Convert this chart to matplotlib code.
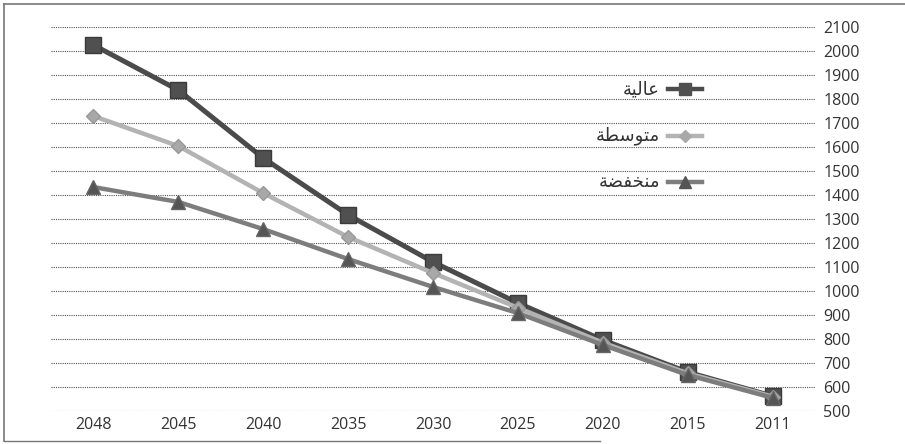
import matplotlib
matplotlib.use("Agg")
import matplotlib.pyplot as plt
from matplotlib.lines import Line2D

# Projection years (drawn right-to-left, most recent on the left)
years = ["2048", "2045", "2040", "2035", "2030", "2025", "2020", "2015", "2011"]

# Scenario values
high = [2025, 1837, 1554, 1317, 1121, 950, 796, 662, 562]
medium = [1729, 1604, 1408, 1225, 1075, 930, 785, 657, 560]
low = [1433, 1371, 1258, 1133, 1017, 908, 775, 650, 555]

# Arabic series names, in presentation forms (visual order) so they render joined
name_high = "\uFE94\uFEF4\uFEDF\uFE8E\uFECB"            # عالية
name_medium = "\uFE94\uFEC4\uFEB3\uFEEE\uFE98\uFEE3"    # متوسطة
name_low = "\uFE94\uFEC0\uFED4\uFEA8\uFEE8\uFEE3"       # منخفضة

y_ticks = list(range(500, 2101, 100))

fig = plt.figure(figsize=(9.05, 4.44), dpi=100)
fig.patch.set_facecolor("white")
ax = fig.add_axes([51 / 905, (444 - 411) / 444, (815 - 51) / 905, (411 - 27) / 444])

x = list(range(len(years)))

c_high, c_med, c_low = "#4b4b4b", "#b3b3b3", "#7d7d7d"

ax.plot(x, high, color=c_high, lw=3.6, marker="s", ms=11,
        mfc="#505050", mec="#3a3a3a", zorder=3)
ax.plot(x, medium, color=c_med, lw=3.2, marker="D", ms=7,
        mfc="#a8a8a8", mec="#999999", zorder=4)
ax.plot(x, low, color=c_low, lw=3.2, marker="^", ms=10,
        mfc="#555555", mec="#666666", zorder=5)

ax.set_xlim(-0.5, len(years) - 0.5)
ax.set_ylim(500, 2100)
ax.set_xticks(x)
ax.set_xticklabels(years)
ax.set_yticks(y_ticks)
ax.yaxis.tick_right()
ax.tick_params(axis="both", length=0, labelsize=11.5, colors="#333333")
ax.tick_params(axis="y", pad=6)
ax.tick_params(axis="x", pad=4)
for lab in ax.get_xticklabels() + ax.get_yticklabels():
    lab.set_fontfamily("Open Sans")

ax.grid(axis="y", color="#555555", lw=0.8, ls=(0, (1, 1)))
ax.set_axisbelow(True)
for s in ax.spines.values():
    s.set_visible(False)
ax.set_facecolor("none")

# Right-to-left legend: marker sample on the right, name on the left
legend_rows = [
    (name_high, 89, c_high, "s", 9, "#505050"),
    (name_medium, 136, c_med, "D", 6, "#a8a8a8"),
    (name_low, 182, c_low, "^", 8, "#555555"),
]
for name, ypix, col, mk, ms, mfc in legend_rows:
    yf = 1 - ypix / 444
    fig.add_artist(Line2D([668 / 905, 702 / 905], [yf, yf], color=col, lw=3.2,
                          transform=fig.transFigure))
    fig.add_artist(Line2D([685 / 905], [yf], marker=mk, ms=ms, mfc=mfc, mec=mfc,
                          ls="none", transform=fig.transFigure))
    fig.text(660 / 905, yf, name, ha="right", va="center", fontsize=13,
             color="#333333", family=["DejaVu Sans"])

# Frame around the figure (left, top, bottom)
frame_col = "#777777"
fig.add_artist(Line2D([4 / 905, 4 / 905], [1 - 4 / 444, 1 - 441 / 444],
                      color=frame_col, lw=1.2, transform=fig.transFigure))
fig.add_artist(Line2D([4 / 905, 1.0], [1 - 4 / 444, 1 - 4 / 444],
                      color=frame_col, lw=1.2, transform=fig.transFigure))
fig.add_artist(Line2D([4 / 905, 600 / 905], [1 - 441 / 444, 1 - 441 / 444],
                      color=frame_col, lw=1.0, transform=fig.transFigure))

fig.savefig("out.png", dpi=100, facecolor="white")
